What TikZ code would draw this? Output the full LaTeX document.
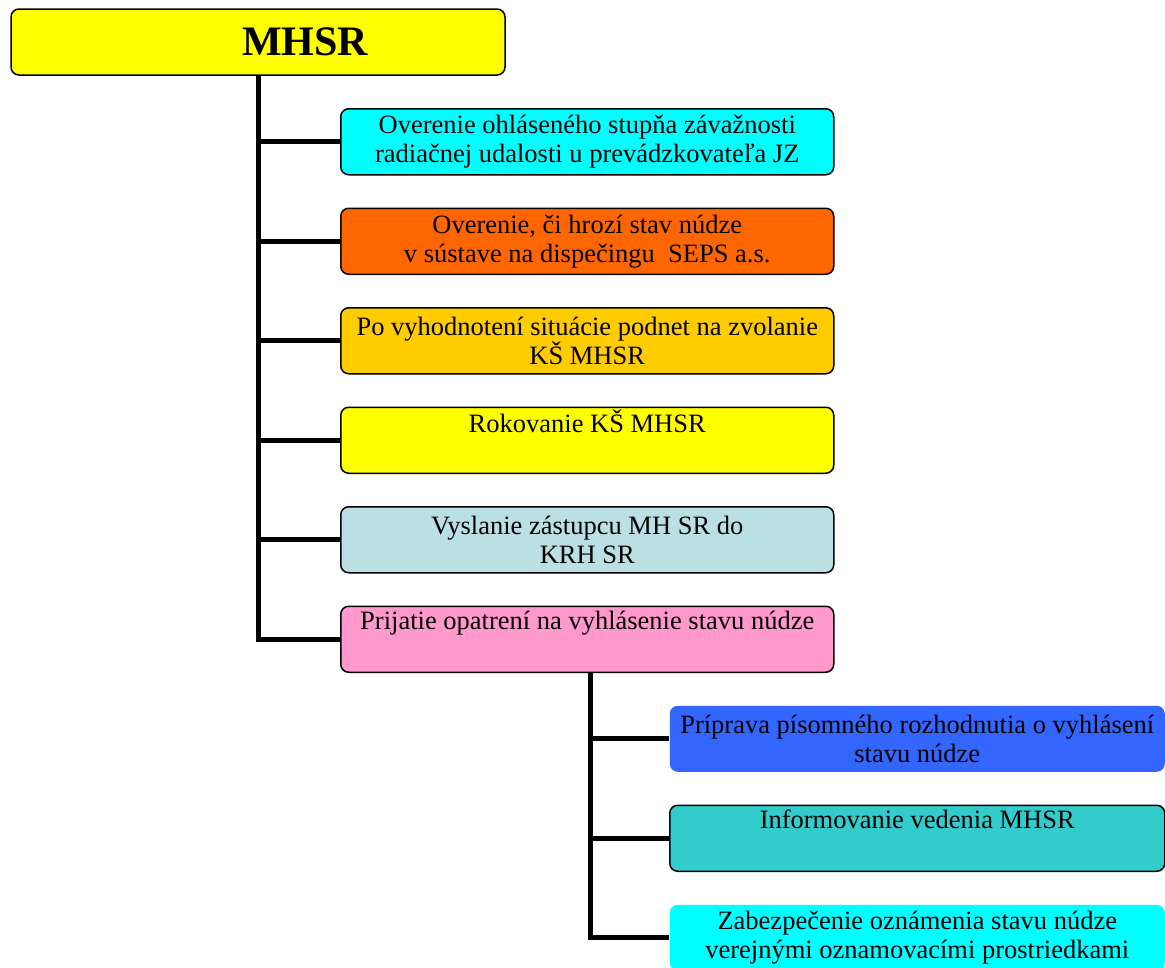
\documentclass[tikz,border=0pt]{standalone}
\usepackage{fontspec}
\setmainfont{Liberation Serif}
\usetikzlibrary{positioning}
\definecolor{cYellow}{HTML}{FFFF00}
\definecolor{cCyan}{HTML}{00FFFF}
\definecolor{cOrange}{HTML}{FF6600}
\definecolor{cGold}{HTML}{FFCC00}
\definecolor{cPale}{HTML}{BBE0E3}
\definecolor{cPink}{HTML}{FF99CC}
\definecolor{cBlue}{HTML}{3366FF}
\definecolor{cTeal}{HTML}{33CCCC}
\begin{document}
\begin{tikzpicture}[
  x=1pt,y=-1pt,
  font=\fontsize{26.5}{29}\selectfont,
  node distance=32pt,
  box/.style={draw,rounded corners=8pt,line width=1.5pt,align=center,
    minimum width=493pt,minimum height=66pt,inner sep=1pt},
  trunk/.style={line width=5pt}
]
\useasboundingbox (0,0) rectangle (1165,967);
% hlavny uzol
\node[box,fill=cYellow,minimum width=494pt,font=\fontsize{42}{48}\selectfont\bfseries]
  (mhsr) at (258,42) {\hspace*{94pt}MHSR};

% prva uroven
\node[box,fill=cCyan,anchor=north west] (over) at (340,108)
  {Overenie ohláseného stupňa závažnosti\\radiačnej udalosti u prevádzkovateľa JZ};
\node[box,fill=cOrange,below=of over] (seps)
  {Overenie, či hrozí stav núdze\\v sústave na dispečingu\ \ SEPS a.s.};
\node[box,fill=cGold,below=of seps] (podnet)
  {Po vyhodnotení situácie podnet na zvolanie\\KŠ MHSR};
\node[box,fill=cYellow,below=of podnet] (rokov)
  {Rokovanie KŠ MHSR\\\strut};
\node[box,fill=cPale,below=of rokov] (vyslanie)
  {Vyslanie zástupcu MH SR do\\KRH SR};
\node[box,fill=cPink,below=of vyslanie] (prijatie)
  {Prijatie opatrení na vyhlásenie stavu núdze\\\strut};

% druha uroven
\node[box,draw=none,fill=cBlue,minimum width=495pt,anchor=north west] (priprava) at (669,705)
  {Príprava písomného rozhodnutia o vyhlásení\\stavu núdze};
\node[box,fill=cTeal,minimum width=495pt,below=of priprava] (info)
  {Informovanie vedenia MHSR\\\strut};
\node[box,draw=none,fill=cCyan,minimum width=495pt,below=of info] (oznam)
  {Zabezpečenie oznámenia stavu núdze\\verejnými oznamovacími prostriedkami};

% spojenia
\draw[trunk] (mhsr.south) |- (prijatie.west);
\foreach \n in {over,seps,podnet,rokov,vyslanie}
  \draw[trunk] (\n.west) -- (\n.west -| mhsr.south);
\draw[trunk] (prijatie.south -| 590,0) |- (oznam.west);
\draw[trunk] (priprava.west) -- (priprava.west -| 590,0);
\draw[trunk] (info.west) -- (info.west -| 590,0);
\end{tikzpicture}
\end{document}
